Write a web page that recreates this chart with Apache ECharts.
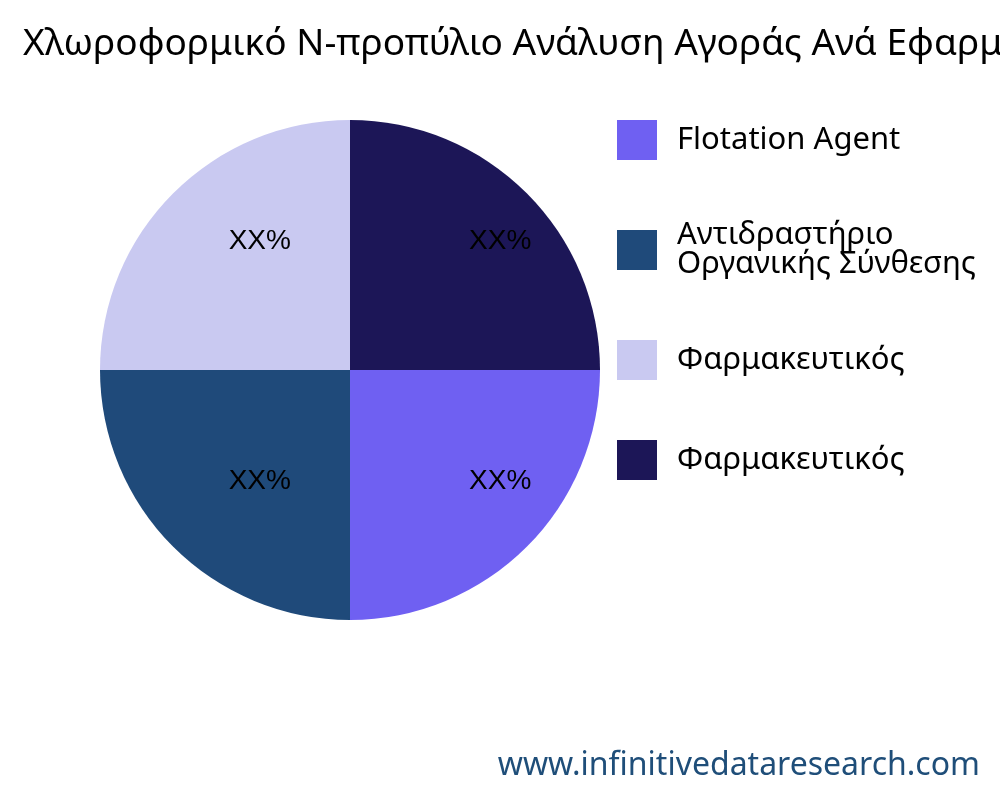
<!DOCTYPE html>
<html><head><meta charset="utf-8">
<script src="https://cdn.jsdelivr.net/npm/echarts@6/dist/echarts.min.js"></script>
<style>html,body{margin:0;padding:0;background:#fff}#c{width:1000px;height:800px}</style>
</head><body><div id="c"></div>
<script>
var categories = ["Flotation Agent", "Αντιδραστήριο\nΟργανικής Σύνθεσης", "Φαρμακευτικός", "Φαρμακευτικός "];
var values = [25, 25, 25, 25];
var labels = ["XX%", "XX%", "XX%", "XX%"];
var colors = ["#6f60f2", "#1f4a7a", "#c9c9f1", "#1c1657"];
var chart = echarts.init(document.getElementById('c'));
var data = categories.map(function(n,i){return {name:n,value:values[i],itemStyle:{color:colors[i]}};});
chart.setOption({
  animation:false,
  title:{text:"Χλωροφορμικό N-προπύλιο Ανάλυση Αγοράς Ανά Εφαρμογή",left:18,top:21,textStyle:{fontFamily:"Noto Sans",fontSize:37,fontWeight:"normal",color:"#000"}},
  legend:{orient:"vertical",left:612,top:115,itemWidth:40,itemHeight:40,itemGap:60,icon:"rect",
    data:categories,textStyle:{fontFamily:"Noto Sans",fontSize:31,color:"#000",lineHeight:29,padding:[0,0,0,15]}},
  graphic:[{type:"text",right:20,top:750,style:{text:"www.infinitivedataresearch.com",font:"32px 'Noto Sans'",fill:"#1f4e79"}}],
  series:[
    {type:"pie",center:[350,370],radius:[0,250],startAngle:0,clockwise:true,data:data,label:{show:false},labelLine:{show:false},silent:true},
    {type:"pie",center:[350,370],radius:[0,334],startAngle:0,clockwise:true,silent:true,legendHoverLink:false,
      data:categories.map(function(n,i){return {name:"l"+i,value:values[i],itemStyle:{color:"rgba(0,0,0,0)"},label:{formatter:labels[i]}};}),
      label:{show:true,position:"inside",offset:[30,-9],fontFamily:"Liberation Sans",fontSize:28,color:"#000"},labelLine:{show:false}}
  ]
});
</script></body></html>
